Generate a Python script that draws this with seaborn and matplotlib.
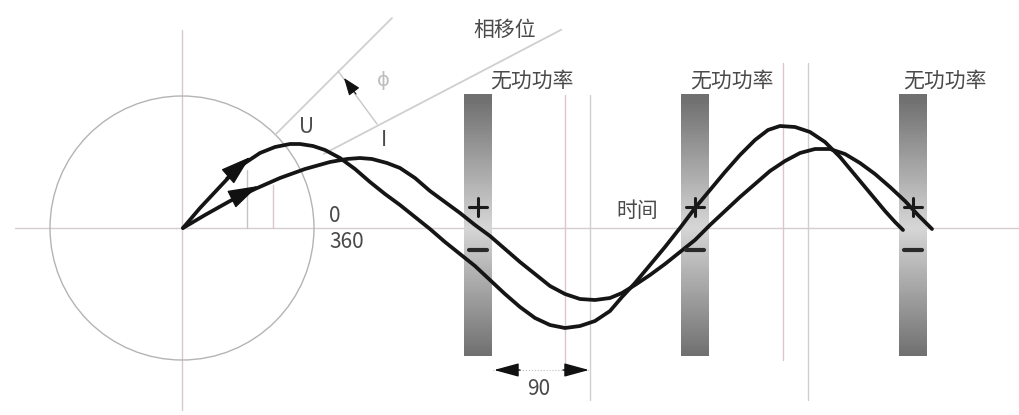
import numpy as np
import matplotlib
matplotlib.use("Agg")
import matplotlib.pyplot as plt
import seaborn as sns
from matplotlib.patches import Circle

sns.set_theme(style="white")
plt.rcParams['font.family'] = ['Noto Sans CJK SC', 'DejaVu Sans']

# voltage curve U (x right, y down)
u_x = [183, 200, 215, 230, 245, 260, 275, 290, 300, 313, 325, 340, 355, 370, 385,
       400, 415, 430, 445, 460, 475, 490, 505, 520, 535, 550, 565, 580, 595, 610,
       622, 635, 650, 665, 680, 695, 710, 725, 740, 755, 768, 780, 795, 810, 825,
       840, 855, 870, 885, 895, 903]
u_y = [228, 208, 192, 176, 163, 153, 147, 144, 144, 146, 150, 158, 169, 182, 194,
       205, 217, 229, 242, 254, 266, 280, 294, 307, 318, 325, 328, 326, 321, 311,
       297, 283, 265, 247, 228, 208, 190, 172, 155, 140, 130, 126, 127, 132, 142,
       157, 175, 193, 211, 222, 230]

# current curve I
i_x = [183, 205, 230, 255, 280, 305, 330, 347, 360, 372, 387, 400, 415, 430, 445,
       460, 475, 490, 505, 520, 535, 550, 565, 580, 595, 610, 622, 635, 650, 665,
       680, 695, 710, 725, 740, 755, 770, 785, 800, 815, 830, 845, 860, 875, 890,
       905, 918, 932]
i_y = [228, 215, 201, 189, 178, 169, 162, 159, 158, 159, 163, 168, 178, 191, 202,
       213, 225, 236, 249, 262, 274, 286, 294, 299, 300, 298, 293, 285, 275, 264,
       252, 240, 225, 211, 197, 184, 171, 161, 153, 149, 149, 154, 163, 174, 187,
       201, 215, 229]

bar_centers = [478, 695, 913]
bar_label_left = [490, 690, 903]
bar_title = "无功功率"
phase_title = "相移位"
time_title = "时间"
angle_labels = ["0", "360"]
quarter_label = "90"

fig = plt.figure(figsize=(10.2, 4.15), dpi=100)
ax = fig.add_axes([0, 0, 1, 1])

line_grey = "#cfcfcf"
pink = "#dcc6ca"
txt = "#4a4a4a"

# axes cross and phasor circle
ax.plot([15, 1020], [228, 228], color="#d6cccc", lw=1, zorder=1)
ax.plot([182, 182], [30, 410], color=pink, lw=1, zorder=1)
ax.add_patch(Circle((182, 228), 132, fill=False, ec="#b4b4b4", lw=1, zorder=1))

# phase direction lines
for ang, r0, r1 in [(45, 132, 297), (27.6, 160, 428)]:
    a = np.deg2rad(ang)
    ax.plot([182 + r0 * np.cos(a), 182 + r1 * np.cos(a)],
            [228 - r0 * np.sin(a), 228 - r1 * np.sin(a)],
            color=line_grey, lw=1.3, zorder=1)
ax.plot([377, 338], [124, 71], color="#c8c8c8", lw=1, zorder=1)
ax.annotate("", xy=(344, 78), xytext=(356, 94),
            arrowprops=dict(arrowstyle="-|>,head_length=1.2,head_width=0.45",
                            color="#111", lw=0.8, shrinkA=0, shrinkB=0,
                            mutation_scale=9))
ax.text(383, 80, "ϕ", color="#bdbdbd", fontsize=14, ha="center", va="center",
        family=["DejaVu Sans"])

# projection lines
ax.plot([247, 247], [170, 228], color="#c4c4c4", lw=1, zorder=1)
ax.plot([273, 273], [185, 228], color=pink, lw=1, zorder=1)
ax.plot([565, 565], [95, 375], color=pink, lw=1, zorder=1)
ax.plot([590, 590], [95, 400], color="#cfcfcf", lw=1, zorder=1)
ax.plot([783, 783], [63, 360], color=pink, lw=1, zorder=1)
ax.plot([808, 808], [63, 400], color="#cfcfcf", lw=1, zorder=1)

# reactive power bars with grey gradient
yy = np.linspace(95, 356, 200)
shade = 0.84 - 0.40 * np.clip(np.abs(yy - 228) / 128, 0, 1)
grad = np.tile(shade[:, None], (1, 8))
for cx, lx in zip(bar_centers, bar_label_left):
    ax.imshow(grad, cmap="gray", vmin=0, vmax=1, aspect="auto",
              extent=(cx - 14, cx + 14, 356, 95), interpolation="bilinear", zorder=2)
    ax.text(lx, 81, bar_title, color=txt, fontsize=15, ha="left", va="center")
    ax.plot([cx - 9, cx + 9], [207, 207], color="#1a1a1a", lw=2.2, zorder=4)
    ax.plot([cx, cx], [198, 216], color="#1a1a1a", lw=2.2, zorder=4)
    ax.plot([cx - 9, cx + 9], [250, 250], color="#2a2a2a", lw=3, zorder=4)

# waves
sns.lineplot(x=u_x, y=u_y, sort=False, color="#151515", lw=2.7, ax=ax, zorder=3)
sns.lineplot(x=i_x, y=i_y, sort=False, color="#151515", lw=2.7, ax=ax, zorder=3)

# phasor arrow heads
for tip, base in [((250, 157), (226, 178)), ((258, 186), (232, 199))]:
    ax.annotate("", xy=tip, xytext=base,
                arrowprops=dict(arrowstyle="-|>,head_length=1.2,head_width=0.38",
                                color="#111", lw=1, shrinkA=0, shrinkB=0,
                                mutation_scale=16), zorder=4)

# 90 degree dimension
ax.plot([493, 590], [370, 370], color="#bbbbbb", lw=0.8, ls=":", zorder=1)
for tip, base in [((494, 370), (520, 370)), ((589, 370), (563, 370))]:
    ax.annotate("", xy=tip, xytext=base,
                arrowprops=dict(arrowstyle="-|>,head_length=1.1,head_width=0.3",
                                color="#111", lw=1, shrinkA=0, shrinkB=0,
                                mutation_scale=14))
ax.text(539, 389, quarter_label, color=txt, fontsize=15, ha="center", va="center")

# labels
ax.text(505, 30, phase_title, color=txt, fontsize=15, ha="center", va="center")
ax.text(637, 211, time_title, color=txt, fontsize=15, ha="center", va="center")
ax.text(307, 127, "U", color=txt, fontsize=15, ha="center", va="center")
ax.text(384, 140, "I", color=txt, fontsize=15, ha="center", va="center")
ax.text(329, 216, angle_labels[0], color=txt, fontsize=15, ha="left", va="center")
ax.text(329, 242, angle_labels[1], color=txt, fontsize=15, ha="left", va="center")

ax.set_xlim(0, 1020)
ax.set_ylim(415, 0)
ax.axis("off")
fig.savefig("out.png", dpi=100, facecolor="white")
